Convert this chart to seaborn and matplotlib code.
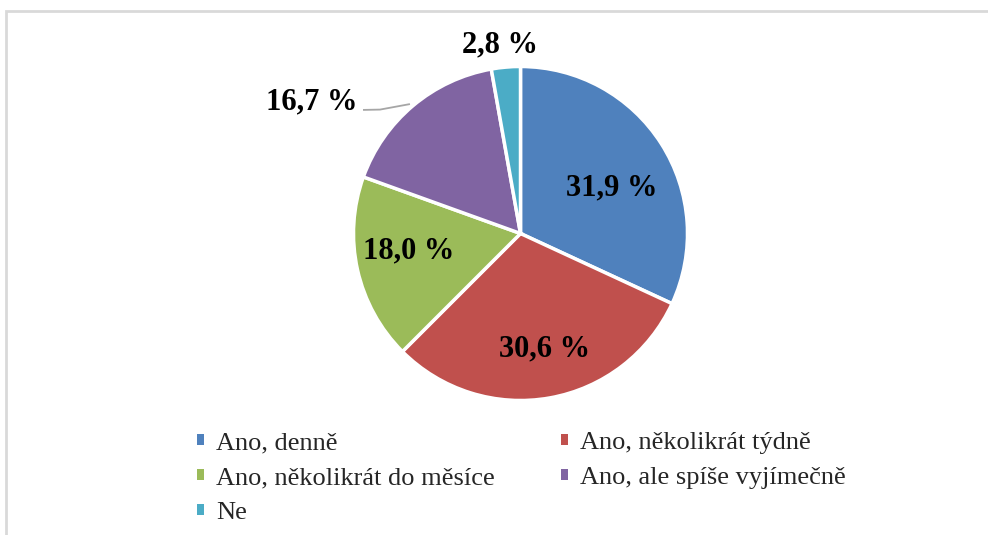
import matplotlib
matplotlib.use('Agg')
import matplotlib.pyplot as plt
import matplotlib.patches as mpatches
import seaborn as sns

sns.set_theme(style='white')
plt.rcParams['font.family'] = ['Liberation Serif', 'DejaVu Serif']

# data
categories = ['Ano, denně', 'Ano, několikrát týdně', 'Ano, několikrát do měsíce',
              'Ano, ale spíše vyjímečně', 'Ne']
values = [31.9, 30.6, 18.0, 16.7, 2.8]
value_labels = ['31,9 %', '30,6 %', '18,0 %', '16,7 %', '2,8 %']
colors = sns.color_palette(['#4F81BD', '#C0504D', '#9BBB59', '#8064A2', '#4BACC6'])

# label placement (axes units, pie radius = 1)
label_pos = [(0.548, 0.272), (0.147, -0.692), (-0.668, -0.105), (-1.249, 0.787), (-0.123, 1.129)]

fig = plt.figure(figsize=(9.88, 5.35), dpi=100)
fig.patch.set_facecolor('white')

# chart frame (only left/top edges visible in crop)
frame = mpatches.Rectangle((6 / 988, -0.2), 1.2, 1.2 - 11 / 535,
                           transform=fig.transFigure, fill=False,
                           edgecolor='#d9d9d9', linewidth=2)
fig.patches.append(frame)

ax = fig.add_axes([353.5 / 988, (535 - 400.5) / 535, 334 / 988, 334 / 535])
wedges, _ = ax.pie(values, colors=colors, startangle=90, counterclock=False,
                   radius=1, wedgeprops=dict(edgecolor='white', linewidth=2.5))
ax.set_xlim(-1, 1)
ax.set_ylim(-1, 1)

for (x, y), txt in zip(label_pos, value_labels):
    ax.text(x, y, txt, ha='center', va='center', fontsize=22,
            fontweight='bold', color='black', family='Liberation Serif')

# leader line for the 16,7 % label
ax.plot([-0.943, -0.841, -0.662], [0.740, 0.742, 0.775], color='#a6a6a6', lw=1.3,
        solid_capstyle='butt')

handles = [mpatches.Patch(facecolor=c, edgecolor='none') for c in colors]
order = [0, 2, 4, 1, 3]
fig.legend([handles[i] for i in order], [categories[i] for i in order],
           loc='upper left', bbox_to_anchor=(197 / 988, 1 - 432 / 535),
           ncol=2, frameon=False, prop=dict(family='Liberation Serif', size=19),
           handlelength=0.27, handleheight=0.27, handletextpad=0.45,
           columnspacing=2.5, labelspacing=0.5, borderpad=0, borderaxespad=0)

fig.savefig('out.png', dpi=100)
